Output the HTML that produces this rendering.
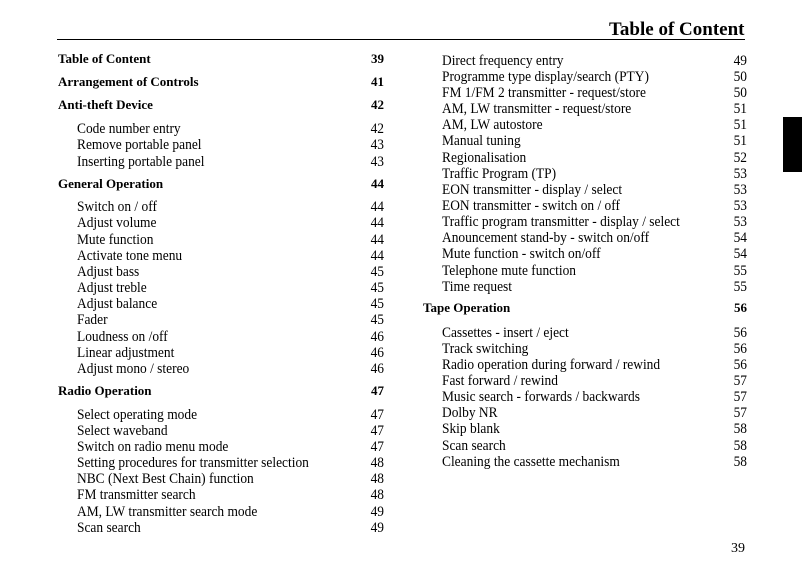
<!DOCTYPE html>
<html><head><meta charset="utf-8"><style>
body{margin:0;width:802px;height:566px;background:#fff;position:relative;overflow:hidden;font-family:"Liberation Serif",serif;color:#000}
.t{position:absolute;font-size:15px;line-height:18px;white-space:nowrap;transform:scaleX(0.895);transform-origin:0 0}
.b{font-weight:bold;font-size:13px;transform:none}
.n{position:absolute;font-size:15px;line-height:18px;text-align:right;width:40px;transform:scaleX(0.895);transform-origin:100% 0}
.nb{font-weight:bold;font-size:13px;transform:none}
</style></head><body>
<div style="position:absolute;left:609px;top:17px;font-size:19px;font-weight:bold;line-height:26px;white-space:nowrap">Table of Content</div>
<div style="position:absolute;left:57px;top:39px;width:688px;height:1px;background:#000"></div>
<div style="position:absolute;left:783px;top:117px;width:19px;height:55px;background:#000"></div>
<div style="position:absolute;left:731px;top:540px;font-size:14px;line-height:18px">39</div>
<div id="c"></div>
<script>
var L=[
[58,"Table of Content","39",1],[81,"Arrangement of Controls","41",1],[104,"Anti-theft Device","42",1],
[127,"Code number entry","42"],[143,"Remove portable panel","43"],[160,"Inserting portable panel","43"],
[183,"General Operation","44",1],
[205,"Switch on / off","44"],[221,"Adjust volume","44"],[238,"Mute function","44"],[254,"Activate tone menu","44"],
[270,"Adjust bass","45"],[286,"Adjust treble","45"],[302,"Adjust balance","45"],[318,"Fader","45"],
[335,"Loudness on /off","46"],[351,"Linear adjustment","46"],[367,"Adjust mono / stereo","46"],
[390,"Radio Operation","47",1],
[413,"Select operating mode","47"],[429,"Select waveband","47"],[445,"Switch on radio menu mode","47"],
[461,"Setting procedures for transmitter selection","48"],[477,"NBC (Next Best Chain) function","48"],
[493,"FM transmitter search","48"],[510,"AM, LW transmitter search mode","49"],[526,"Scan search","49"]];
var R=[
[59,"Direct frequency entry","49"],[75,"Programme type display/search (PTY)","50"],[91,"FM 1/FM 2 transmitter - request/store","50"],
[107,"AM, LW transmitter - request/store","51"],[123,"AM, LW autostore","51"],[139,"Manual tuning","51"],
[156,"Regionalisation","52"],[172,"Traffic Program (TP)","53"],[188,"EON transmitter - display / select","53"],
[204,"EON transmitter - switch on / off","53"],[220,"Traffic program transmitter - display / select","53"],
[236,"Anouncement stand-by - switch on/off","54"],[252,"Mute function - switch on/off","54"],
[269,"Telephone mute function","55"],[285,"Time request","55"],[307,"Tape Operation","56",1],
[331,"Cassettes - insert / eject","56"],[347,"Track switching","56"],[363,"Radio operation during forward / rewind","56"],
[379,"Fast forward / rewind","57"],[395,"Music search - forwards / backwards","57"],[411,"Dolby NR","57"],
[427,"Skip blank","58"],[444,"Scan search","58"],[460,"Cleaning the cassette mechanism","58"]];
var h="";
function add(a,xb,xs,xr){a.forEach(function(e){var y=e[0]-(e[3]?8:7);
h+='<div class="t'+(e[3]?' b':'')+'" style="left:'+(e[3]?xb:xs)+'px;top:'+y+'px">'+e[1]+'</div>';
h+='<div class="n'+(e[3]?' nb':'')+'" style="left:'+(xr-40)+'px;top:'+y+'px">'+e[2]+'</div>';});}
add(L,58,77,384);add(R,423,442,747);
document.getElementById("c").innerHTML=h;
</script>
</body></html>
